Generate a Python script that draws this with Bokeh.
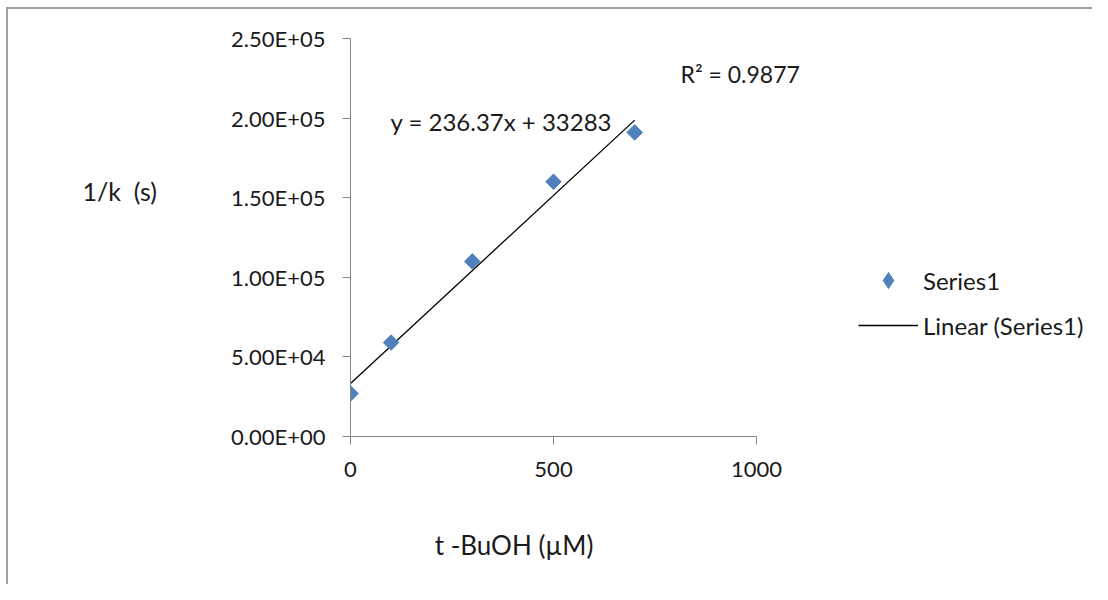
import math
from bokeh.plotting import figure
from bokeh.models import Range1d, Label, Legend, LegendItem, FixedTicker
from bokeh.embed import file_html
from bokeh.resources import INLINE

# ---- data ----
tbuoh_um = [0, 100, 300, 500, 700]
inv_k_s = [27000, 59000, 110000, 160000, 191000]
fit_slope = 236.37
fit_intercept = 33283
r_squared_text = "R\u00b2 = 0.9877"
equation_text = "y = 236.37x + 33283"
x_ticks = [0, 500, 1000]
y_ticks = [0, 50000, 100000, 150000, 200000, 250000]
y_tick_labels = ["0.00E+00", "5.00E+04", "1.00E+05", "1.50E+05", "2.00E+05", "2.50E+05"]
series_name = "Series1"
trend_name = "Linear (Series1)"
x_title = "t -BuOH (\u00b5M)"
y_title = "1/k\u00a0 (s)"

FONT = "Lato"
TXT = "#1a1a1a"
AX = "#868686"
BLUE = "#4F81BD"
EDGE = "#a0a0a0"

W, H = 1092, 584
LEFT, TOP, AXIS_PX, BOTTOM = 350, 38, 406, 148
x_axis_max = 1000
x_view_max = x_axis_max * (W - LEFT) / AXIS_PX   # room on the right for legend & R² text

p = figure(width=W, height=H, output_backend="svg", toolbar_location=None,
           x_range=Range1d(0, x_view_max), y_range=Range1d(0, 250000),
           min_border_left=LEFT, min_border_right=0, min_border_top=TOP, min_border_bottom=BOTTOM)
p.styles = {
    "background-image": f"linear-gradient({EDGE},{EDGE}), linear-gradient({EDGE},{EDGE})",
    "background-size": "100% 2px, 2px 100%",
    "background-position": "6px 7px, 6px 7px",
    "background-repeat": "no-repeat",
}
p.grid.visible = False
p.outline_line_color = None
p.background_fill_color = "white"
p.border_fill_alpha = 0

for ax in (p.xaxis[0], p.yaxis[0]):
    ax.axis_line_color = AX
    ax.major_tick_line_color = AX
    ax.minor_tick_line_color = None
    ax.major_tick_in = 0
    ax.major_tick_out = 8
    ax.major_label_text_font = FONT
    ax.major_label_text_font_size = "22px"
    ax.major_label_text_color = TXT

p.xaxis.ticker = FixedTicker(ticks=x_ticks)
p.xaxis.bounds = (0, x_axis_max)
p.xaxis.major_label_standoff = 17
p.yaxis.ticker = FixedTicker(ticks=y_ticks)
p.yaxis.major_label_overrides = {t: l for t, l in zip(y_ticks, y_tick_labels)}
p.yaxis.major_label_standoff = 17

fit_x = [min(tbuoh_um), max(tbuoh_um)]
fit_y = [fit_intercept + fit_slope * x for x in fit_x]
trend = p.line(fit_x, fit_y, line_color="black", line_width=1.3)
pts = p.scatter(tbuoh_um, inv_k_s, marker="square", angle=math.pi / 4, size=11,
                fill_color=BLUE, line_color=BLUE)
# legend-only key (a single NaN point, never drawn in the plot): diamond like the spreadsheet legend
key = p.scatter(x=[float("nan")], y=[float("nan")], marker="diamond",
                fill_color=BLUE, line_color=BLUE)

legend = Legend(items=[LegendItem(label=series_name, renderers=[key]),
                       LegendItem(label=trend_name, renderers=[trend])],
                location=(508, 91), glyph_width=60, glyph_height=40, label_height=40,
                spacing=5, padding=0, margin=0, label_standoff=5,
                border_line_color=None, background_fill_alpha=0,
                label_text_font=FONT, label_text_font_size="24px", label_text_color=TXT)
p.add_layout(legend)

def lab(text, x, y, place, size, align="left"):
    p.add_layout(Label(x=x, y=y, text=text,
                       text_font=FONT, text_font_size=size, text_color=TXT,
                       text_align=align, text_baseline="middle"), place)

lab(equation_text, 98.5, 197864, "center", "24px")
lab(r_squared_text, 812.8, 228015, "center", "23px")
lab(y_title, -660, 154500, "left", "25px")
lab(x_title, 402.7, -68467, "below", "26px", "center")

open("out.html", "w").write(file_html(p, INLINE))
